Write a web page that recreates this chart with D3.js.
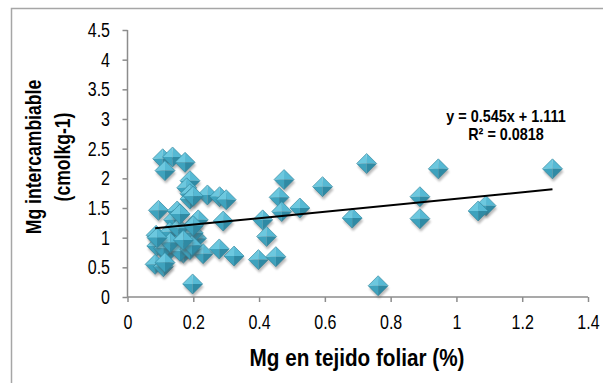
<!DOCTYPE html>
<html>
<head>
<meta charset="utf-8">
<script src="https://cdn.jsdelivr.net/npm/d3@7"></script>
<style>
  body { margin: 0; background: #fff; }
  svg text { font-family: "Liberation Sans", Arial, sans-serif; }
</style>
</head>
<body>
<div id="chart"></div>
<script>
// Mg en tejido foliar (%)
const mgFoliar = [
  0.107, 0.137, 0.175, 0.114, 0.19, 0.18, 0.19, 0.19, 0.243, 0.28,
  0.30, 0.476, 0.461, 0.469, 0.524, 0.593, 0.727, 0.945, 1.292, 0.889,
  0.889, 1.09, 1.066, 0.683, 0.762, 0.094, 0.151, 0.14, 0.215, 0.291,
  0.411, 0.087, 0.129, 0.185, 0.21, 0.185, 0.089, 0.15, 0.119, 0.17,
  0.23, 0.279, 0.324, 0.423, 0.398, 0.451, 0.084, 0.109, 0.198, 0.18,
  0.16, 0.19, 0.20, 0.196, 0.11, 0.155, 0.114, 0.13, 0.17, 0.2,
  0.09, 0.2, 0.16
];
// Mg intercambiable (cmolkg-1)
const mgInter = [
  2.33, 2.36, 2.27, 2.13, 1.96, 1.84, 1.74, 1.65, 1.72, 1.69,
  1.64, 1.98, 1.68, 1.44, 1.50, 1.86, 2.25, 2.16, 2.16, 1.69,
  1.32, 1.54, 1.45, 1.33, 0.19, 1.46, 1.45, 1.30, 1.30, 1.28,
  1.30, 1.04, 1.10, 1.13, 0.99, 0.94, 0.86, 0.88, 0.74, 0.74,
  0.73, 0.81, 0.69, 1.02, 0.63, 0.68, 0.55, 0.51, 0.22, 0.85,
  0.77, 0.80, 1.08, 0.87, 0.82, 1.16, 0.58, 0.92, 0.96, 1.2,
  1.0, 1.7, 1.4
];
const xTicks = [0, 0.2, 0.4, 0.6, 0.8, 1, 1.2, 1.4];
const yTicks = [0, 0.5, 1, 1.5, 2, 2.5, 3, 3.5, 4, 4.5];
const slope = 0.545, intercept = 1.111;
const trendLabel = "y = 0.545x + 1.111";
const r2Label = "R² = 0.0818";

const W = 603, H = 383;
const narrow = 0.8; // horizontal squeeze to mimic a narrow font

const svg = d3.select("#chart").append("svg")
  .attr("width", W).attr("height", H);

// outer chart border (only left/top are in view)
svg.append("rect")
  .attr("x", 11.5).attr("y", 8.5)
  .attr("width", 700).attr("height", 500)
  .attr("fill", "none").attr("stroke", "#a6a6a6").attr("stroke-width", 1.5);

const x = d3.scaleLinear().domain([0, 1.4]).range([127.5, 588]);
const y = d3.scaleLinear().domain([0, 4.5]).range([297, 30]);

const defs = svg.append("defs");
const f = defs.append("filter").attr("id", "shadow")
  .attr("x", "-50%").attr("y", "-50%").attr("width", "200%").attr("height", "200%");
f.append("feGaussianBlur").attr("stdDeviation", 1.3);

// axes
const xAxis = d3.axisBottom(x).tickValues(xTicks).tickSize(5).tickPadding(13)
  .tickFormat(d3.format("~g"));
const yAxis = d3.axisLeft(y).tickValues(yTicks).tickSize(5)
  .tickFormat(d3.format("~g"));

const gx = svg.append("g").attr("transform", `translate(0,${y(0)})`).call(xAxis);
const gy = svg.append("g").attr("transform", `translate(${x(0)},0)`).call(yAxis);
[gx, gy].forEach(g => {
  g.select(".domain").attr("stroke", "#8c8c8c").attr("stroke-width", 1.5);
  g.selectAll(".tick line").attr("stroke", "#8c8c8c").attr("stroke-width", 1.5);
  g.selectAll(".tick text").attr("fill", "#000").attr("font-size", 20)
    .style("font-family", '"Liberation Sans", Arial, sans-serif')
    .attr("transform", `scale(${narrow},1)`);
});
gy.selectAll(".tick text").attr("x", -17.5 / narrow);
gx.select(".domain").attr("d", `M${x(0)},0H${x(1.4)}`);
gy.select(".domain").attr("d", `M0,${y(0)}V${y(4.5)}`);

// markers
const data = mgFoliar.map((v, i) => ({ x: v, y: mgInter[i] }));
const s = 10;
const mk = svg.append("g").selectAll("g").data(data).enter().append("g")
  .attr("transform", d => `translate(${x(d.x)},${y(d.y)})`);
mk.append("path")
  .attr("d", `M0,${-s + 3}L${s},3L0,${s + 3}L${-s},3Z`)
  .attr("transform", "translate(1,0)")
  .attr("fill", "#555").attr("opacity", 0.4).attr("filter", "url(#shadow)");
mk.append("path").attr("d", `M0,${-s}L${-s},0L0,0Z`).attr("fill", "#6cc8df");
mk.append("path").attr("d", `M0,${-s}L${s},0L0,0Z`).attr("fill", "#56b9d4");
mk.append("path").attr("d", `M${-s},0L0,${s}L0,0Z`).attr("fill", "#3ea2bd");
mk.append("path").attr("d", `M${s},0L0,${s}L0,0Z`).attr("fill", "#2f8aa4");
mk.append("path").attr("d", `M0,${-s}L${s},0L0,${s}L${-s},0Z`)
  .attr("fill", "none").attr("stroke", "#2b7f97").attr("stroke-width", 0.6);

// trend line
const tx0 = d3.min(mgFoliar), tx1 = d3.max(mgFoliar);
svg.append("line")
  .attr("x1", x(tx0)).attr("y1", y(slope * tx0 + intercept))
  .attr("x2", x(tx1)).attr("y2", y(slope * tx1 + intercept))
  .attr("stroke", "#000").attr("stroke-width", 2);

const eq = svg.append("g").attr("transform", `translate(506,0) scale(0.9,1)`);
eq.append("text").attr("x", 0).attr("y", 122).attr("text-anchor", "middle")
  .attr("font-size", 16).attr("font-weight", "bold").text(trendLabel);
eq.append("text").attr("x", 0).attr("y", 140).attr("text-anchor", "middle")
  .attr("font-size", 16).attr("font-weight", "bold").text(r2Label);

// axis titles
svg.append("text").attr("transform", `translate(357,366) scale(0.9,1)`)
  .attr("text-anchor", "middle")
  .attr("font-size", 23).attr("font-weight", "bold").text("Mg en tejido foliar (%)");
const yt = svg.append("text").attr("transform", "translate(41,157) rotate(-90) scale(0.8,1)")
  .attr("text-anchor", "middle").attr("font-size", 22).attr("font-weight", "bold");
yt.append("tspan").attr("x", 0).attr("y", 0).text("Mg intercambiable");
yt.append("tspan").attr("x", 0).attr("y", 29).text("(cmolkg-1)");
</script>
</body>
</html>
